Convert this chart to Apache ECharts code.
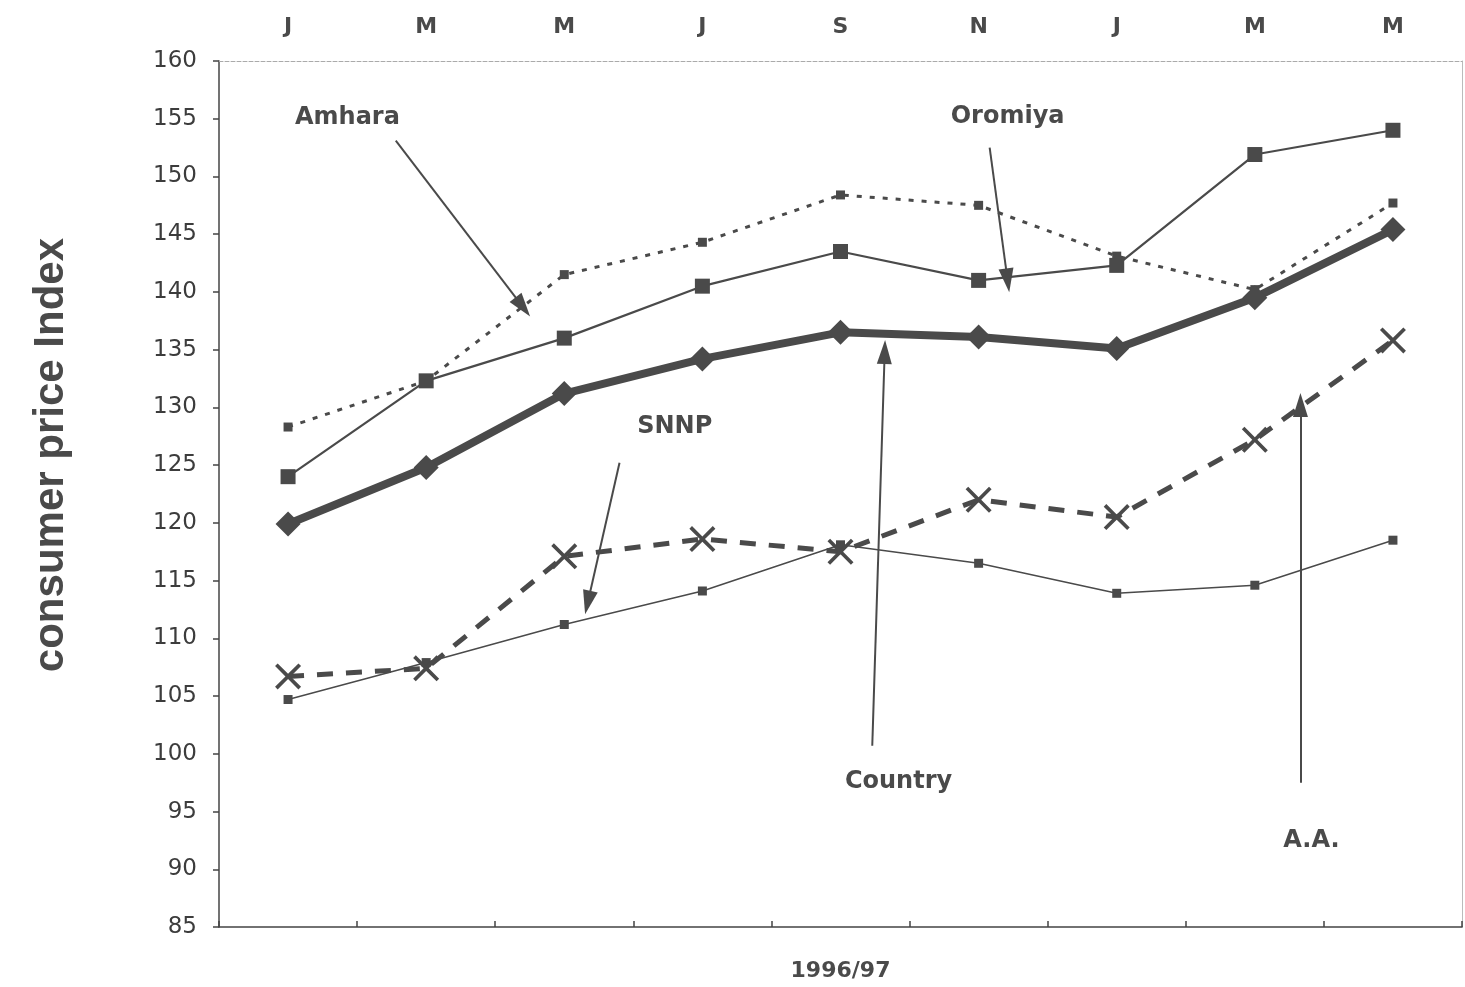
<!DOCTYPE html>
<html>
<head>
<meta charset="utf-8">
<script src="https://cdn.jsdelivr.net/npm/echarts@6/dist/echarts.min.js"></script>
<style>
html,body{margin:0;padding:0;background:#fff;overflow:hidden;}
#chart{width:1465px;height:987px;}
</style>
</head>
<body>
<div id="chart"></div>
<script>
// ---- data ----
const categories = ['J', 'M', 'M', 'J', 'S', 'N', 'J', 'M', 'M'];
const oromiya = [124.0, 132.3, 136.0, 140.5, 143.5, 141.0, 142.3, 151.9, 154.0];
const amhara  = [128.3, 132.3, 141.5, 144.3, 148.4, 147.5, 143.1, 140.2, 147.7];
const country = [119.9, 124.8, 131.2, 134.2, 136.5, 136.1, 135.1, 139.5, 145.4];
const addisAbaba = [106.7, 107.4, 117.1, 118.6, 117.5, 122.0, 120.5, 127.2, 135.8];
const snnp    = [104.7, 107.9, 111.2, 114.1, 118.1, 116.5, 113.9, 114.6, 118.5];
const yTicks = { min: 85, max: 160, step: 5 };
const xName = '1996/97';
const yName = 'consumer price Index';
// annotation labels: [category position, value, text]
const labelNotes = [
  [0.43, 155.1, 'Amhara'],
  [5.21, 155.2, 'Oromiya'],
  [2.80, 128.3, 'SNNP'],
  [4.42, 97.6, 'Country'],
  [7.41, 92.5, 'A.A.']
];
// arrows: [from position, from value, to position, to value]
const arrowNotes = [
  [0.78, 153.1, 1.70, 138.7],
  [5.08, 152.5, 5.21, 141.0],
  [2.40, 125.2, 2.17, 113.1],
  [4.23, 100.7, 4.32, 134.8],
  [7.33, 97.5, 7.33, 130.2]
];

const INK = '#4a4a4a';
const WIDE = '"DejaVu Sans", Verdana, sans-serif';
const NARROW = '"Liberation Sans", Arial, sans-serif';
const xMark = 'path://M2,0 L10,8 L18,0 L20,2 L12,10 L20,18 L18,20 L10,12 L2,20 L0,18 L8,10 L0,2 Z';

const chart = echarts.init(document.getElementById('chart'), null, {renderer: 'canvas'});
const option = {
  animation: false,
  backgroundColor: '#fff',
  grid: { left: 219, right: 3, top: 61, bottom: 48 },
  xAxis: [
    {
      type: 'category', data: categories, position: 'bottom',
      boundaryGap: true,
      axisLine: { onZero: false, lineStyle: { color: '#444', width: 1.5 } },
      axisTick: { show: true, inside: true, length: 6, lineStyle: { color: '#444', width: 1.5 } },
      axisLabel: { show: false },
      name: xName, nameLocation: 'middle', nameGap: 33,
      nameTextStyle: { fontFamily: WIDE, fontWeight: 'bold', fontSize: 22, color: INK }
    },
    {
      type: 'category', data: categories, position: 'top',
      boundaryGap: true,
      axisLine: { onZero: false, lineStyle: { color: '#aaa', width: 1, type: 'dashed' } },
      axisTick: { show: false },
      axisLabel: { fontFamily: WIDE, fontWeight: 'bold', fontSize: 22, color: INK, margin: 23 }
    },
    {
      type: 'value', min: -0.5, max: 8.5, show: false
    }
  ],
  yAxis: [
    {
      type: 'value', min: yTicks.min, max: yTicks.max, interval: yTicks.step,
      axisLine: { show: true, onZero: false, lineStyle: { color: '#444', width: 1.5 } },
      axisTick: { show: true, length: 6, lineStyle: { color: '#444', width: 1.5 } },
      splitLine: { show: false },
      axisLabel: { fontFamily: WIDE, fontSize: 23, color: '#3c3c3c', margin: 22 }
    },
    {
      type: 'value', min: yTicks.min, max: yTicks.max, interval: yTicks.step, position: 'right',
      axisLine: { show: true, onZero: false, lineStyle: { color: '#bbb', width: 1 } },
      axisTick: { show: false }, axisLabel: { show: false }, splitLine: { show: false }
    }
  ],
  graphic: [
    {
      type: 'text', left: 30, top: 238, rotation: Math.PI / 2,
      style: { text: yName, font: 'bold 42px ' + NARROW, fill: INK },
      originX: 0, originY: 0
    }
  ],
  series: [
    {
      name: 'SNNP', type: 'line', data: snnp, z: 2,
      lineStyle: { color: INK, width: 1.5 },
      symbol: 'rect', symbolSize: 9, itemStyle: { color: INK }
    },
    {
      name: 'Amhara', type: 'line', data: amhara, z: 2,
      lineStyle: { color: INK, width: 3, type: [5, 8] },
      symbol: 'rect', symbolSize: 9, itemStyle: { color: INK }
    },
    {
      name: 'Oromiya', type: 'line', data: oromiya, z: 3,
      lineStyle: { color: INK, width: 2.2 },
      symbol: 'rect', symbolSize: 15, itemStyle: { color: INK }
    },
    {
      name: 'A.A.', type: 'line', data: addisAbaba, z: 3,
      lineStyle: { color: INK, width: 5, type: [16, 13] },
      symbol: xMark, symbolSize: 26, itemStyle: { color: INK }
    },
    {
      name: 'Country', type: 'line', data: country, z: 4,
      lineStyle: { color: INK, width: 8 },
      symbol: 'diamond', symbolSize: 25, itemStyle: { color: INK }
    },
    {
      name: 'notes', type: 'scatter', xAxisIndex: 2, yAxisIndex: 0, z: 5,
      data: labelNotes, symbolSize: 0,
      itemStyle: { opacity: 1, color: INK },
      label: {
        show: true, position: 'inside', formatter: p => p.data[2],
        fontFamily: WIDE, fontWeight: 'bold', fontSize: 24, color: INK, opacity: 1
      },
      markLine: {
        silent: true, symbol: ['none', 'triangle'], symbolSize: [15, 24],
        lineStyle: { color: INK, width: 2, type: 'solid', opacity: 1 },
        label: { show: false },
        data: arrowNotes.map(a => [{ coord: [a[0], a[1]] }, { coord: [a[2], a[3]] }])
      }
    }
  ]
};
chart.setOption(option);
</script>
</body>
</html>
